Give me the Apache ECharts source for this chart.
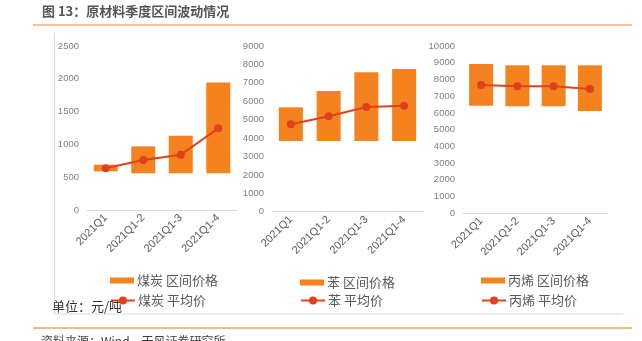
<!DOCTYPE html>
<html><head><meta charset="utf-8">
<script src="https://cdn.jsdelivr.net/npm/echarts@6/dist/echarts.min.js"></script>
<style>html,body{margin:0;padding:0;background:#fff}#c{width:642px;height:341px}</style>
</head><body><div id="c"></div>
<script>
const categories = ['2021Q1', '2021Q1-2', '2021Q1-3', '2021Q1-4'];
// 煤炭
const coalLow = [590, 560, 560, 560];
const coalHigh = [690, 970, 1130, 1945];
const coalAvg = [635, 762, 843, 1245];
// 苯
const benzLow = [3840, 3840, 3840, 3840];
const benzHigh = [5670, 6560, 7570, 7750];
const benzAvg = [4750, 5180, 5690, 5760];
// 丙烯
const propLow = [6430, 6400, 6400, 6120];
const propHigh = [8920, 8850, 8850, 8850];
const propAvg = [7670, 7590, 7590, 7430];

const yMax = [2500, 9000, 10000];
const yInterval = [500, 1000, 1000];
const names = ['煤炭', '苯', '丙烯'];

const ORANGE = '#F4831F';
const RED = '#E0401C';
const FONT = '"Liberation Sans", Arial, "Noto Sans CJK SC", sans-serif';

const grids = [
  {left: 87, top: 46, width: 150, height: 164},
  {left: 272, top: 46, width: 151, height: 165.7},
  {left: 463, top: 46, width: 145, height: 167.3}
];
const legendPos = [
  {left: 105, t1: 269, t2: 289},
  {left: 295, t1: 271, t2: 289},
  {left: 476, t1: 269, t2: 289}
];
const lows = [coalLow, benzLow, propLow];
const highs = [coalHigh, benzHigh, propHigh];
const avgs = [coalAvg, benzAvg, propAvg];

const xAxis = [], yAxis = [], series = [], legend = [];
for (let i = 0; i < 3; i++) {
  xAxis.push({
    type: 'category', gridIndex: i, data: categories,
    axisLine: {lineStyle: {color: '#d9d9d9', width: 1}},
    axisTick: {show: false},
    axisLabel: {rotate: 45, color: '#595959', fontSize: 11, fontFamily: FONT, margin: 6, interval: 0}
  });
  yAxis.push({
    type: 'value', gridIndex: i, min: 0, max: yMax[i], interval: yInterval[i],
    axisLine: {show: false}, axisTick: {show: false}, splitLine: {show: false},
    axisLabel: {color: '#808080', fontSize: 9.5, fontFamily: FONT, margin: 8, formatter: v => String(v)}
  });
  const diff = highs[i].map((v, k) => v - lows[i][k]);
  series.push({
    name: names[i] + '_base', type: 'bar', stack: 's' + i, xAxisIndex: i, yAxisIndex: i,
    data: lows[i], barWidth: 24, itemStyle: {color: 'transparent'}, silent: true
  });
  series.push({
    name: names[i] + ' 区间价格', type: 'bar', stack: 's' + i, xAxisIndex: i, yAxisIndex: i,
    data: diff, barWidth: 24, itemStyle: {color: ORANGE}
  });
  series.push({
    name: names[i] + ' 平均价', type: 'line', xAxisIndex: i, yAxisIndex: i,
    data: avgs[i], symbol: 'circle', symbolSize: 8,
    lineStyle: {color: RED, width: 2}, itemStyle: {color: RED}
  });
  legend.push({
    data: [names[i] + ' 区间价格'], left: legendPos[i].left, top: legendPos[i].t1,
    icon: 'rect', itemWidth: 24, itemHeight: 6, itemGap: 4,
    textStyle: {fontSize: 13, color: '#595959', fontFamily: '"Noto Sans CJK SC", sans-serif', padding: [0, 0, 0, -2]},
    selectedMode: false
  });
  legend.push({
    data: [names[i] + ' 平均价'], left: legendPos[i].left, top: legendPos[i].t2,
    itemWidth: 24, itemHeight: 10,
    textStyle: {fontSize: 13, color: '#595959', fontFamily: '"Noto Sans CJK SC", sans-serif', padding: [0, 0, 0, -2]},
    selectedMode: false
  });
}

const chart = echarts.init(document.getElementById('c'), null, {renderer: 'canvas'});
chart.setOption({
  animation: false,
  grid: grids.map(g => Object.assign({containLabel: false}, g)),
  xAxis, yAxis, series, legend,
  graphic: [
    {type: 'text', left: 42, top: 5, style: {text: '图 13：原材料季度区间波动情况', font: 'bold 13px "Noto Sans CJK SC", sans-serif', fill: '#555555'}},
    {type: 'line', shape: {x1: 33, y1: 25, x2: 632, y2: 25}, style: {stroke: '#F8B27C', lineWidth: 1.5}},
    {type: 'line', shape: {x1: 54.5, y1: 33, x2: 54.5, y2: 314}, style: {stroke: '#d9d9d9', lineWidth: 1}},
    {type: 'line', shape: {x1: 54.5, y1: 314, x2: 623, y2: 314}, style: {stroke: '#d9d9d9', lineWidth: 1}},
    {type: 'line', shape: {x1: 33, y1: 328, x2: 632, y2: 328}, style: {stroke: '#F5A05A', lineWidth: 1.5}},
    {type: 'text', left: 52, top: 300, style: {text: '单位：元/吨', font: '13px "Noto Sans CJK SC", serif', fill: '#333'}},
    {type: 'text', left: 41, top: 335, style: {text: '资料来源：Wind，天风证券研究所', font: '12px "Noto Sans CJK SC", sans-serif', fill: '#404040'}}
  ]
});
</script></body></html>
